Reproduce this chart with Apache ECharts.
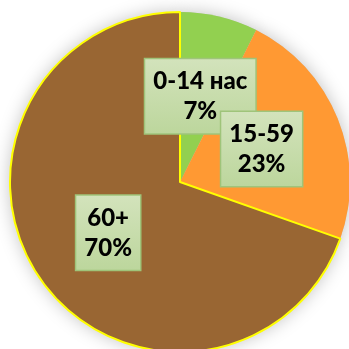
<!DOCTYPE html>
<html>
<head>
<meta charset="utf-8">
<script src="https://cdn.jsdelivr.net/npm/echarts@6/dist/echarts.min.js"></script>
<style>
  html, body { margin: 0; padding: 0; background: #fff; }
  #chart { width: 349px; height: 349px; }
</style>
</head>
<body>
<div id="chart"></div>
<script>
const categories = ['0-14 нас', '15-59', '60+']
const shares = [7.4, 23.0, 69.6]
const colors = ['#92d050', '#ff9933', '#996633']

const chart = echarts.init(document.getElementById('chart'))

const labelBox = {
  show: true,
  position: 'inside',
  overflow: 'none',
  formatter: (p) => p.name + '\n' + Math.round(p.percent) + '%',
  fontFamily: 'Lato',
  fontWeight: 900,
  fontSize: 24,
  lineHeight: 30,
  color: '#000',
  padding: [7, 8],
  borderColor: '#9fc47a',
  borderWidth: 1.5,
  backgroundColor: new echarts.graphic.LinearGradient(0, 0, 0, 1, [
    { offset: 0, color: '#d3e3bc' },
    { offset: 1, color: '#bcd69c' },
  ]),
}

const data = categories.map((name, i) => ({
  name,
  value: shares[i],
  itemStyle: i === 2
    ? { color: colors[i], borderColor: '#ffff00', borderWidth: 2 }
    : { color: colors[i], borderWidth: 0 },
}))

chart.setOption({
  animation: false,
  series: [
    {
      // soft grey glow under the pie
      type: 'pie',
      silent: true,
      z: 1,
      center: [180, 182],
      radius: 170,
      startAngle: 90,
      label: { show: false },
      labelLine: { show: false },
      itemStyle: {
        color: '#ccc',
        shadowBlur: 18,
        shadowColor: 'rgba(0,0,0,0.25)',
      },
      data: shares.map((v) => ({ value: v })),
    },
    {
      type: 'pie',
      z: 2,
      center: [180, 182],
      radius: 170,
      startAngle: 90,
      label: labelBox,
      labelLine: { show: false },
      labelLayout: { hideOverlap: false },
      emphasis: { disabled: true },
      data,
    },
  ],
})
</script>
</body>
</html>
